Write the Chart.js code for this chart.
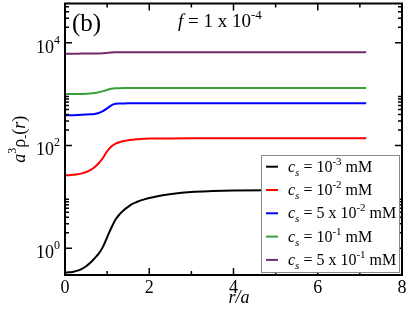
<!DOCTYPE html>
<html><head><meta charset="utf-8">
<script src="https://cdn.jsdelivr.net/npm/chart.js@4"></script>
<style>html,body{margin:0;padding:0;background:#fff;}#wrap{width:409px;height:313px;position:relative}</style>
</head><body><div id="wrap"><canvas id="c" width="409" height="313"></canvas></div>
<script>
// r/a values
const r = [0, 0.1, 0.2, 0.3, 0.4, 0.5, 0.6, 0.7, 0.8, 0.9, 1.0, 1.1, 1.2, 1.3, 1.4, 1.5, 1.6, 1.7, 1.8, 1.9, 2.0, 2.4, 3.0, 3.5, 4.0, 5.0, 6.0, 7.15];
// a^3 rho_-(r) for each salt concentration
const cs_1e3 = [0.335, 0.338, 0.348, 0.365, 0.395, 0.445, 0.52, 0.63, 0.78, 1.06, 1.62, 2.5, 3.6, 4.6, 5.55, 6.4, 7.25, 7.9, 8.5, 9.0, 9.45, 11.0, 12.4, 12.9, 13.2, 13.5, 13.7, 13.8];
const cs_1e2 = [26.1, 26.3, 26.8, 27.5, 28.6, 30.3, 33.0, 37.5, 45, 57, 77, 95, 108, 116, 122, 126.5, 129.5, 132, 134, 135, 135.8, 137, 138, 138, 138, 138, 138, 138];
const cs_5e2 = [388, 388, 389, 391, 394, 398, 403, 410, 428, 465, 525, 605, 645, 655, 658, 660, 661, 662, 662, 662, 662, 662, 662, 662, 662, 662, 662, 662];
const cs_1e1 = [1000, 1000, 1002, 1004, 1007, 1012, 1022, 1045, 1085, 1140, 1205, 1270, 1297, 1303, 1306, 1308, 1309, 1310, 1310, 1310, 1310, 1310, 1310, 1310, 1310, 1310, 1310, 1310];
const cs_5e1 = [6120, 6120, 6122, 6125, 6130, 6138, 6148, 6158, 6170, 6210, 6340, 6480, 6530, 6545, 6550, 6550, 6550, 6550, 6550, 6550, 6550, 6550, 6550, 6550, 6550, 6550, 6550, 6550];

// legend labels: [prefix, exponent]
const legendPre = ["", "", "5 x ", "", "5 x "];
const legendExp = ["-3", "-2", "-2", "-1", "-1"];
const seriesColors = ["#000000", "#ff0000", "#0000ff", "#38a038", "#742a66"];
const seriesData = [cs_1e3, cs_1e2, cs_5e2, cs_1e1, cs_5e1];

// axis ticks
const xMajor = [0, 2, 4, 6, 8];
const xMinor = [1, 3, 5, 7];
const yMajor = [1, 100, 10000];
const yMinor = [2,3,4,5,6,7,8,9, 200,300,400,500,600,700,800,900, 20000,30000,40000,50000];

const SERIF = "'Liberation Serif','DejaVu Serif',serif";

function drawRich(ctx, x, y, parts, align) {
  let w = 0;
  parts.forEach(p => { ctx.font = p.f; w += ctx.measureText(p.t).width; });
  let cx = align === 'right' ? x - w : (align === 'center' ? x - w / 2 : x);
  ctx.textAlign = 'left';
  ctx.textBaseline = 'alphabetic';
  parts.forEach(p => {
    ctx.font = p.f;
    ctx.fillText(p.t, cx, y + (p.dy || 0));
    cx += ctx.measureText(p.t).width;
  });
}

const decor = {
  id: 'decor',
  afterDraw(chart) {
    const ctx = chart.ctx, a = chart.chartArea;
    const xs = chart.scales.x, ys = chart.scales.y;
    ctx.save();
    ctx.strokeStyle = '#000';
    ctx.fillStyle = '#000';
    // ticks (inward, mirrored)
    ctx.lineWidth = 1.5;
    const tickX = (v, len) => {
      const px = xs.getPixelForValue(v);
      ctx.beginPath();
      ctx.moveTo(px, a.bottom); ctx.lineTo(px, a.bottom - len);
      ctx.moveTo(px, a.top); ctx.lineTo(px, a.top + len);
      ctx.stroke();
    };
    const tickY = (v, len) => {
      const py = ys.getPixelForValue(v);
      if (py < a.top || py > a.bottom) return;
      ctx.beginPath();
      ctx.moveTo(a.left, py); ctx.lineTo(a.left + len, py);
      ctx.moveTo(a.right, py); ctx.lineTo(a.right - len, py);
      ctx.stroke();
    };
    xMajor.forEach(v => tickX(v, 7));
    xMinor.forEach(v => tickX(v, 4));
    yMajor.forEach(v => tickY(v, 7));
    yMinor.forEach(v => tickY(v, 4));
    // frame
    ctx.lineWidth = 2;
    ctx.strokeRect(a.left, a.top, a.right - a.left, a.bottom - a.top);
    // x tick labels
    ctx.font = '18px ' + SERIF;
    ctx.textAlign = 'center';
    ctx.textBaseline = 'alphabetic';
    xMajor.forEach(v => ctx.fillText(String(v), xs.getPixelForValue(v), 293));
    // y tick labels
    yMajor.forEach(v => {
      const py = ys.getPixelForValue(v);
      drawRich(ctx, 60, py + 10, [
        {t: '10', f: '18px ' + SERIF},
        {t: String(Math.round(Math.log10(v))), f: '12px ' + SERIF, dy: -9}
      ], 'right');
    });
    // axis titles
    drawRich(ctx, 239, 303, [{t: 'r/a', f: 'italic 18px ' + SERIF}], 'center');
    ctx.save();
    ctx.translate(25, (a.top + a.bottom) / 2);
    ctx.rotate(-Math.PI / 2);
    drawRich(ctx, 0, 0, [
      {t: 'a', f: 'italic 18px ' + SERIF},
      {t: '3', f: '12px ' + SERIF, dy: -9},
      {t: 'ρ', f: '18px ' + SERIF},
      {t: '-', f: '12px ' + SERIF, dy: 4},
      {t: '(', f: '18px ' + SERIF},
      {t: 'r', f: 'italic 18px ' + SERIF},
      {t: ')', f: '18px ' + SERIF}
    ], 'center');
    ctx.restore();
    // annotations
    drawRich(ctx, 72, 31, [{t: '(b)', f: '25px ' + SERIF}], 'left');
    drawRich(ctx, 178, 27, [
      {t: 'f', f: 'italic 19px ' + SERIF},
      {t: ' = 1 x 10', f: '19px ' + SERIF},
      {t: '-4', f: '13px ' + SERIF, dy: -8}
    ], 'left');
    // legend
    const lx = 261, ly = 155, lw = 138, lh = 117;
    ctx.fillStyle = '#fff';
    ctx.fillRect(lx, ly, lw, lh);
    ctx.strokeStyle = '#888';
    ctx.lineWidth = 1;
    ctx.strokeRect(lx + 0.5, ly + 0.5, lw, lh);
    chart.data.datasets.forEach((ds, i) => {
      const cy = 166.7 + i * 23.3;
      ctx.strokeStyle = ds.borderColor;
      ctx.lineWidth = 2;
      ctx.beginPath();
      ctx.moveTo(266, cy); ctx.lineTo(278, cy); ctx.stroke();
      ctx.fillStyle = '#000';
      drawRich(ctx, 288, cy + 5, [
        {t: 'c', f: 'italic 16px ' + SERIF},
        {t: 's', f: 'italic 11px ' + SERIF, dy: 4},
        {t: ' = ' + legendPre[i] + '10', f: '16px ' + SERIF},
        {t: legendExp[i], f: '11px ' + SERIF, dy: -7},
        {t: ' mM', f: '16px ' + SERIF}
      ], 'left');
    });
    ctx.restore();
  }
};

new Chart(document.getElementById('c'), {
  type: 'line',
  data: {
    datasets: seriesData.map((d, i) => ({
      label: 'c_s = ' + legendPre[i] + '10^' + legendExp[i] + ' mM',
      data: r.map((x, j) => ({x: x, y: d[j]})),
      borderColor: seriesColors[i],
      borderWidth: 2,
      pointRadius: 0,
      fill: false,
      cubicInterpolationMode: 'monotone'
    }))
  },
  options: {
    responsive: false,
    animation: false,
    events: [],
    layout: {padding: {left: 65, right: 7, top: 3.5, bottom: 38}},
    plugins: {legend: {display: false}, tooltip: {enabled: false}},
    scales: {
      x: {type: 'linear', min: 0, max: 8, display: false},
      y: {type: 'logarithmic', min: 0.33, max: 58000, display: false}
    }
  },
  plugins: [decor]
});
</script></body></html>
